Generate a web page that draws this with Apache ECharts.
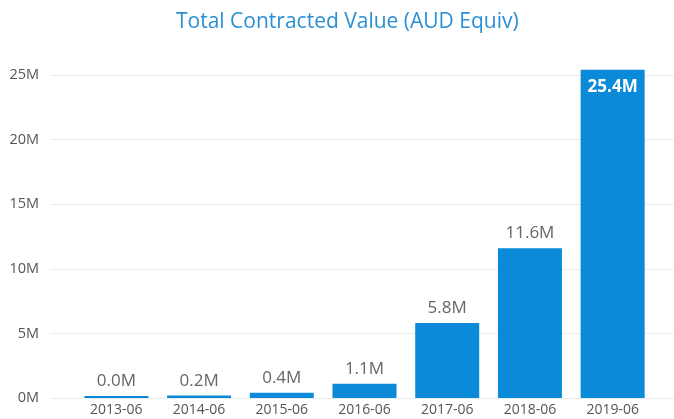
<!DOCTYPE html>
<html>
<head>
<meta charset="utf-8">
<script src="https://cdn.jsdelivr.net/npm/echarts@6/dist/echarts.min.js"></script>
<style>
  html, body { margin: 0; padding: 0; background: #fff; }
  #chart { width: 674px; height: 419px; }
</style>
</head>
<body>
<div id="chart"></div>
<script>
// values in millions of AUD
var categories = ['2013-06', '2014-06', '2015-06', '2016-06', '2017-06', '2018-06', '2019-06']
var values = [0.04, 0.2, 0.4, 1.1, 5.8, 11.6, 25.4]
var yMax = 25
var yStep = 5

var chart = echarts.init(document.getElementById('chart'))
var font = '"Open Sans", "Noto Sans", sans-serif'

chart.setOption({
  animation: false,
  title: {
    text: 'Total Contracted Value (AUD Equiv)',
    left: 171,
    top: 7,
    textStyle: {
      color: '#2b8fd4',
      fontSize: 21,
      fontWeight: 'normal',
      fontFamily: font
    }
  },
  grid: [
    // gridlines + y labels
    { left: 50, right: 0, top: 75, bottom: 21 },
    // bars
    { left: 75, right: 20, top: 75, bottom: 21 }
  ],
  xAxis: [
    { gridIndex: 0, type: 'category', data: categories, show: false },
    {
      gridIndex: 1,
      type: 'category',
      data: categories,
      axisLine: { show: false },
      axisTick: { show: false },
      axisLabel: {
        color: '#555',
        fontSize: 14,
        fontFamily: font,
        margin: 5
      }
    }
  ],
  yAxis: [
    {
      gridIndex: 0,
      type: 'value',
      min: 0,
      max: yMax,
      interval: yStep,
      axisLine: { show: false },
      axisTick: { show: false },
      splitLine: { lineStyle: { color: '#ececec', width: 1 } },
      axisLabel: {
        formatter: '{value}M',
        color: '#555',
        fontSize: 14.5,
        fontFamily: font,
        margin: 11
      }
    },
    {
      gridIndex: 1,
      type: 'value',
      min: 0,
      max: yMax,
      interval: yStep,
      show: false,
      splitLine: { show: false }
    }
  ],
  series: [{
    type: 'bar',
    xAxisIndex: 1,
    yAxisIndex: 1,
    data: values.map(function (v, i) {
      var item = { value: v }
      if (i === values.length - 1) {
        item.label = {
          position: 'insideTop',
          distance: 9,
          color: '#fff',
          fontWeight: 'bold'
        }
      }
      return item
    }),
    barWidth: 64,
    barMinHeight: 2,
    clip: false,
    itemStyle: { color: '#0a8ad8' },
    label: {
      show: true,
      position: 'top',
      distance: 6,
      color: '#666',
      fontSize: 17,
      fontFamily: font,
      formatter: function (p) {
        return p.value.toFixed(1) + 'M'
      }
    }
  }]
})
</script>
</body>
</html>
